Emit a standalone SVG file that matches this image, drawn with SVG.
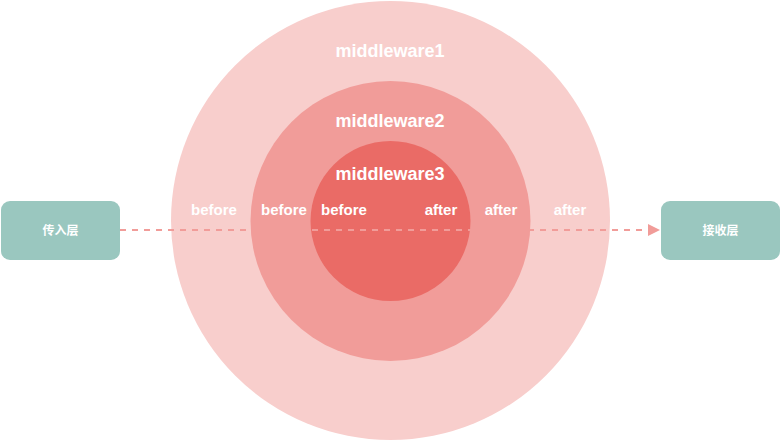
<svg xmlns="http://www.w3.org/2000/svg" width="781" height="441" viewBox="0 0 781 441">
<style>
  .lbl { font-family: "Liberation Sans", Arial, Helvetica, sans-serif; fill: #ffffff; text-anchor: middle; font-weight: bold; }
  .big { font-size: 18px; }
  .small { font-size: 15px; }
  .box { fill: #9AC7BF; }
  .boxtxt { font-family: "Liberation Sans", "Noto Sans CJK SC", sans-serif; font-size: 12px; fill: #ffffff; text-anchor: middle; font-weight: bold; }
  .flow { stroke: #F19C99; stroke-width: 2; stroke-dasharray: 6 6; fill: none; }
</style>
<defs>
  <marker id="arrow" markerUnits="userSpaceOnUse" markerWidth="14" markerHeight="14" refX="12" refY="6" orient="auto">
    <path d="M0,0 L12,6 L0,12 Z" fill="#F19C99"/>
  </marker>
</defs>
<rect width="781" height="441" fill="#ffffff"/>
<g id="middleware1">
  <circle cx="390.5" cy="220.5" r="219.5" fill="#F8CECC"/>
  <text class="lbl big" x="390" y="57">middleware1</text>
</g>
<g id="middleware2">
  <circle cx="390.5" cy="221" r="140" fill="#F19C99"/>
  <text class="lbl big" x="390" y="127">middleware2</text>
</g>
<g id="middleware3">
  <circle cx="390.5" cy="221" r="80" fill="#EA6B66"/>
  <text class="lbl big" x="390" y="180">middleware3</text>
</g>
<g id="labels">
  <text class="lbl small" x="214" y="215">before</text>
  <text class="lbl small" x="284" y="215">before</text>
  <text class="lbl small" x="344" y="215">before</text>
  <text class="lbl small" x="441" y="215">after</text>
  <text class="lbl small" x="501" y="215">after</text>
  <text class="lbl small" x="570" y="215">after</text>
</g>
<g id="input">
  <rect class="box" x="1" y="201" width="119" height="59" rx="9" ry="9"/>
  <text class="boxtxt" x="60.5" y="235">传入层</text>
</g>
<g id="output">
  <rect class="box" x="661" y="201" width="119" height="59" rx="9" ry="9"/>
  <text class="boxtxt" x="720.5" y="235">接收层</text>
</g>
<g id="connectors">
  <line class="flow" x1="120" y1="230" x2="660" y2="230" marker-end="url(#arrow)"/>
</g>
</svg>
